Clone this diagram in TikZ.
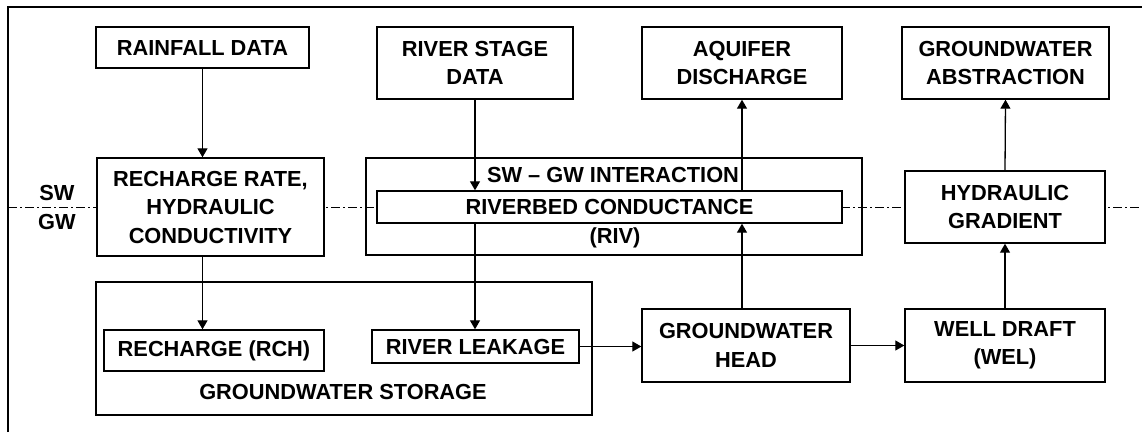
\documentclass[tikz,border=0pt]{standalone}
\usepackage{fontspec}
\setmainfont{Liberation Sans}
\usetikzlibrary{arrows.meta}
\newcommand{\lblfont}{\fontsize{21.8pt}{28.5pt}\selectfont\bfseries}
\tikzset{
  box/.style={draw, line width=1.4pt, fill=white, inner sep=0pt, align=center, font=\lblfont},
  frame/.style={draw, line width=1.4pt, inner sep=0pt},
  lbl/.style={inner sep=0pt, align=center, font=\lblfont},
  arr/.style={-{Triangle[length=9pt,width=10pt]}, line width=1.3pt},
  divider/.style={line width=1pt, dash pattern=on 9pt off 3pt on 2pt off 3pt}
}
\begin{document}
\begin{tikzpicture}[x=1pt,y=-1pt]
\useasboundingbox (0,0) rectangle (1142,432);

% outer border (left and top edges)
\coordinate (fbl) at (8,432);
\coordinate (ftl) at (8,7);
\coordinate (ftr) at (1142,7);
\draw[line width=1.8pt] (fbl) -- (ftl) -- (ftr);

% grouping frames
\node[frame, minimum width=496pt, minimum height=97pt] (swgw) at (614,206.5) {};
\node[frame, minimum width=496pt, minimum height=133pt] (storage) at (344,348.5) {};
\node[lbl] (swgwlbl) at (613,175) {SW – GW INTERACTION};
\node[lbl] (storlbl) at (343,392) {GROUNDWATER STORAGE};

% surface water / groundwater divide
\coordinate (dl) at (8,207);
\coordinate (dr) at (1142,207);
\draw[divider] (dl) -- (dr);
\node[lbl] (sw) at (57,193) {SW};
\node[lbl] (gw) at (57,222) {GW};

% top row
\node[box, minimum width=213pt, minimum height=41pt] (rain) at (202.5,47.5) {RAINFALL DATA};
\node[box, minimum width=196pt, minimum height=72pt] (stage) at (475,63) {RIVER STAGE\\DATA};
\node[box, minimum width=200pt, minimum height=72pt] (aquifer) at (742,63) {AQUIFER\\DISCHARGE};
\node[box, minimum width=207pt, minimum height=72pt] (abstr) at (1005.5,63) {GROUNDWATER\\ABSTRACTION};

% middle row
\node[box, minimum width=227pt, minimum height=98pt] (rrate) at (210.5,207) {RECHARGE RATE,\\HYDRAULIC\\CONDUCTIVITY};
\node[box, minimum width=465pt, minimum height=32pt] (riv) at (609.5,207) {RIVERBED CONDUCTANCE};
\node[lbl] (rivlbl) at (615,238) {(RIV)};
\node[box, minimum width=200pt, minimum height=72pt] (hgrad) at (1005,207) {HYDRAULIC\\GRADIENT};

% bottom row
\node[box, minimum width=220pt, minimum height=41pt] (rch) at (214,350.5) {RECHARGE (RCH)};
\node[box, minimum width=207pt, minimum height=33pt] (leak) at (475.5,346.5) {RIVER LEAKAGE};
\node[box, minimum width=208pt, minimum height=73pt] (head) at (746,345.5) {GROUNDWATER\\HEAD};
\node[box, minimum width=200pt, minimum height=73pt] (well) at (1005,345.5) {WELL DRAFT\\(WEL)};

% connectors
\draw[arr] (rain.south) -- (rain.south |- rrate.north);
\draw[arr] (rain.south |- rrate.south) -- (rain.south |- rch.north);
\draw[arr] (stage.south) -- (stage.south |- riv.north);
\draw[arr] (stage.south |- riv.south) -- (stage.south |- leak.north);
\draw[arr] (leak.east) -- (leak.east -| head.west);
\draw[arr] (head.east) -- (well.west);
\draw[arr] (aquifer.south |- head.north) -- (aquifer.south |- riv.south);
\draw[arr] (aquifer.south |- riv.north) -- (aquifer.south);
\draw[arr] (well.north) -- (hgrad.south);
\draw[arr] (hgrad.north) -- (abstr.south);
\end{tikzpicture}
\end{document}
